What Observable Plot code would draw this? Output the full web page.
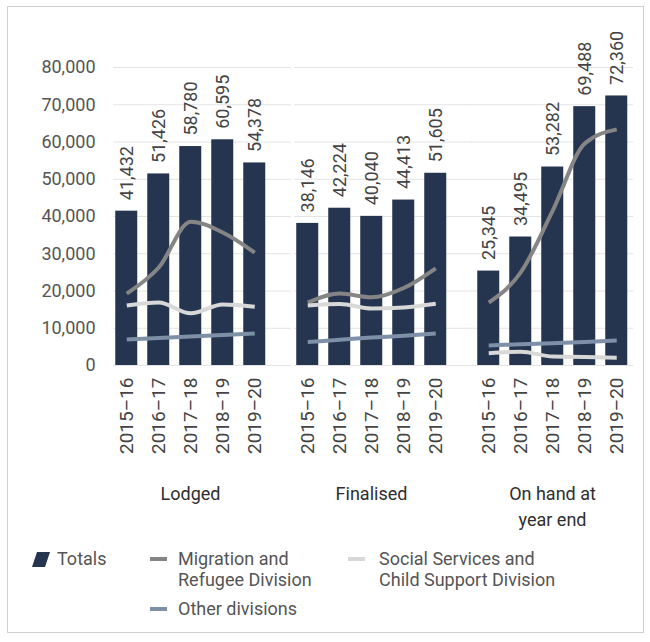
<!DOCTYPE html>
<html>
<head>
<meta charset="utf-8">
<script src="https://cdn.jsdelivr.net/npm/d3@7"></script>
<script src="https://cdn.jsdelivr.net/npm/@observablehq/plot@0.6"></script>
<style>
  html, body { margin: 0; padding: 0; background: #fff; }
  body { width: 650px; height: 642px; position: relative; overflow: hidden; font-family: Roboto, sans-serif; }
  #frame { position: absolute; left: 7px; top: 6px; width: 637px; height: 627px; border: 1px solid #cfcfcf; box-sizing: border-box; }
  #chart { position: absolute; left: 0; top: 0; }
  .lg { position: absolute; font-size: 18px; color: #555; line-height: 21px; white-space: nowrap; }
  .dash { position: absolute; width: 17px; height: 4px; }
</style>
</head>
<body>
<div id="frame"></div>
<div id="chart"></div>
<div id="legend"></div>
<script>
// ---- data ----
const groups = ["Lodged", "Finalised", "On hand at year end"];
const groupLabels = ["Lodged", "Finalised", "On hand at\nyear end"];
const years = ["2015–16", "2016–17", "2017–18", "2018–19", "2019–20"];
const yTicks = [0, 10000, 20000, 30000, 40000, 50000, 60000, 70000, 80000];

const totalsLodged = [41432, 51426, 58780, 60595, 54378];
const totalsFinalised = [38146, 42224, 40040, 44413, 51605];
const totalsOnHand = [25345, 34495, 53282, 69488, 72360];

const migrationLodged = [19300, 26300, 38600, 35700, 30300];
const migrationFinalised = [16900, 19300, 18300, 20800, 26100];
const migrationOnHand = [16900, 25000, 41600, 59600, 63400];

const socialLodged = [16100, 16900, 14000, 16400, 15800];
const socialFinalised = [16100, 16500, 15300, 15600, 16600];
const socialOnHand = [3300, 3700, 2400, 2300, 2100];

const otherLodged = [7000, 7400, 7800, 8200, 8600];
const otherFinalised = [6300, 6900, 7500, 8000, 8600];
const otherOnHand = [5400, 5700, 6000, 6300, 6700];

const seriesNames = ["Migration and Refugee Division", "Social Services and Child Support Division", "Other divisions"];
const seriesColors = ["#858585", "#d8d8d8", "#7d90a8"];
const barColor = "#26354f";

// ---- tables ----
const totals = [totalsLodged, totalsFinalised, totalsOnHand];
const bars = [];
groups.forEach((g, gi) => years.forEach((y, yi) => bars.push({group: g, year: y, total: totals[gi][yi]})));

const seriesData = [
  [migrationLodged, migrationFinalised, migrationOnHand],
  [socialLodged, socialFinalised, socialOnHand],
  [otherLodged, otherFinalised, otherOnHand]
];
const lines = [];
seriesNames.forEach((s, si) => groups.forEach((g, gi) => years.forEach((y, yi) =>
  lines.push({series: s, group: g, year: y, value: seriesData[si][gi][yi], key: s + "|" + g}))));

// grid rows: the first two panels extend across the gap to the next panel
const gridInner = [], gridLast = [];
groups.forEach((g, gi) => yTicks.forEach(v => (gi < groups.length - 1 ? gridInner : gridLast).push({group: g, v})));

const fmt = d3.format(",");

const plot = Plot.plot({
  width: 650,
  height: 540,
  marginTop: 67,
  marginBottom: 175,
  marginLeft: 107.75,
  marginRight: 15.75,
  style: {fontFamily: "Roboto, sans-serif", background: "transparent", overflow: "visible"},
  fx: {domain: groups, paddingInner: 0.107, paddingOuter: 0, label: null},
  x: {domain: years, paddingInner: 0.323, paddingOuter: 0.1615, label: null},
  y: {domain: [0, 80000], label: null},
  color: {domain: seriesNames, range: seriesColors},
  marks: [
    Plot.ruleY(gridInner, {fx: "group", y: "v", stroke: "#e4e4e4", strokeWidth: 1, insetLeft: 4, insetRight: -20}),
    Plot.ruleY(gridLast, {fx: "group", y: "v", stroke: "#e4e4e4", strokeWidth: 1, insetRight: 0}),
    Plot.axisY({ticks: yTicks, tickFormat: fmt, tickSize: 0, tickPadding: 14, fontSize: 18, color: "#555", label: null}),
    Plot.axisX({tickRotate: -90, tickSize: 0, tickPadding: 12, fontSize: 19, color: "#444", label: null}),
    Plot.axisFx({anchor: "bottom", tickSize: 0, tickPadding: 117, fontSize: 18, fontWeight: 400, color: "#2e2e2e", lineHeight: 1.4, label: null,
      tickFormat: d => groupLabels[groups.indexOf(d)]}),
    Plot.barY(bars, {fx: "group", x: "year", y: "total", fill: barColor}),
    Plot.line(lines, {fx: "group", x: "year", y: "value", z: "key", stroke: "series", strokeWidth: 4, curve: "monotone-x", strokeLinecap: "butt"}),
    Plot.text(bars, {fx: "group", x: "year", y: "total", text: d => fmt(d.total), rotate: -90, textAnchor: "start", dy: -11, fontSize: 18, fill: "#444"})
  ]
});
document.getElementById("chart").appendChild(plot);

// ---- legend ----
const legend = document.getElementById("legend");
legend.innerHTML = `
  <svg style="position:absolute;left:32px;top:552px" width="20" height="16"><polygon points="5,0 18,0 13,15 0,15" fill="${barColor}"/></svg>
  <div class="lg" style="left:57px;top:548px">Totals</div>
  <div class="dash" style="left:150px;top:557px;background:${seriesColors[0]}"></div>
  <div class="lg" style="left:178px;top:548px">Migration and<br>Refugee Division</div>
  <div class="dash" style="left:348px;top:557px;background:${seriesColors[1]}"></div>
  <div class="lg" style="left:379px;top:548px">Social Services and<br>Child Support Division</div>
  <div class="dash" style="left:150px;top:607px;background:${seriesColors[2]}"></div>
  <div class="lg" style="left:178px;top:598px">Other divisions</div>
`;
</script>
</body>
</html>
